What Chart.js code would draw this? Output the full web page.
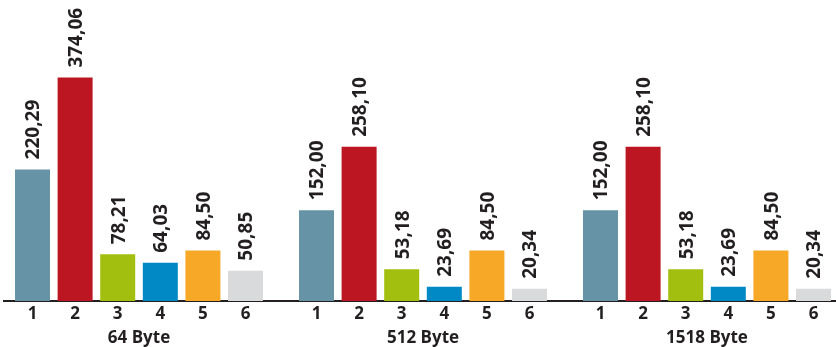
<!DOCTYPE html>
<html><head><meta charset="utf-8">
<script src="https://cdn.jsdelivr.net/npm/chart.js@4"></script>
<style>html,body{margin:0;padding:0;background:#fff}#wrap{width:836px;height:347px}</style>
</head><body><div id="wrap"><canvas id="c" width="836" height="347"></canvas></div>
<script>
// Data
const groups = ['64 Byte', '512 Byte', '1518 Byte'];
const seriesLabels = ['1', '2', '3', '4', '5', '6'];
const series1 = [220.29, 152.00, 152.00];
const series2 = [374.06, 258.10, 258.10];
const series3 = [78.21, 53.18, 53.18];
const series4 = [64.03, 23.69, 23.69];
const series5 = [84.50, 84.50, 84.50];
const series6 = [50.85, 20.34, 20.34];

const allSeries = [series1, series2, series3, series4, series5, series6];
const colors = ['#6793a6', '#bb1622', '#a2bf0f', '#0089c5', '#f6a826', '#d9dadc'];
const textColor = '#231f20';

const datasets = allSeries.map((vals, si) => ({
  label: seriesLabels[si],
  data: vals.map((v, gi) => ({ x: gi, y: v })),
  backgroundColor: colors[si],
  borderWidth: 0,
  categoryPercentage: 0.9,
  barPercentage: 0.8216
}));

const labelPlugin = {
  id: 'barLabels',
  afterDatasetsDraw(chart) {
    const ctx = chart.ctx;
    const base = chart.scales.y.getPixelForValue(0);
    chart.data.datasets.forEach((ds, di) => {
      const meta = chart.getDatasetMeta(di);
      meta.data.forEach((bar, i) => {
        const v = ds.data[i].y;
        ctx.save();
        ctx.fillStyle = textColor;
        ctx.font = 'bold 19px "Open Sans"';
        ctx.translate(bar.x, bar.y - 10);
        ctx.rotate(-Math.PI / 2);
        ctx.textAlign = 'left';
        ctx.textBaseline = 'alphabetic';
        ctx.fillText(v.toFixed(2).replace('.', ','), 0, 6.8);
        ctx.restore();

        ctx.save();
        ctx.fillStyle = textColor;
        ctx.font = 'bold 17px "Open Sans"';
        ctx.textAlign = 'center';
        ctx.textBaseline = 'alphabetic';
        ctx.fillText(seriesLabels[di], bar.x, base + 18.3);
        ctx.restore();
      });
    });
    const xs = chart.scales.x;
    ctx.save();
    ctx.fillStyle = textColor;
    ctx.font = 'bold 17px "Open Sans"';
    ctx.textAlign = 'center';
    ctx.textBaseline = 'alphabetic';
    groups.forEach((g, i) => {
      ctx.fillText(g, xs.getPixelForValue(i), base + 42);
    });
    ctx.restore();
  }
};

new Chart(document.getElementById('c'), {
  type: 'bar',
  data: { datasets },
  options: {
    responsive: false,
    animation: false,
    devicePixelRatio: 1,
    layout: { padding: { left: 4, right: 0, top: 0, bottom: 0 } },
    plugins: { legend: { display: false }, tooltip: { enabled: false } },
    scales: {
      x: {
        type: 'linear',
        offset: false,
        min: -0.4754,
        max: 2.4542,
        grid: { display: false, drawTicks: false, offset: false },
        border: { display: true, color: textColor, width: 2 },
        afterBuildTicks: (s) => { s.ticks = groups.map((g, i) => ({ value: i })); },
        afterFit: (s) => { s.height = 46; },
        ticks: { display: false }
      },
      y: { display: false, min: 0, max: 504 }
    }
  },
  plugins: [labelPlugin]
});
</script>
</body></html>
